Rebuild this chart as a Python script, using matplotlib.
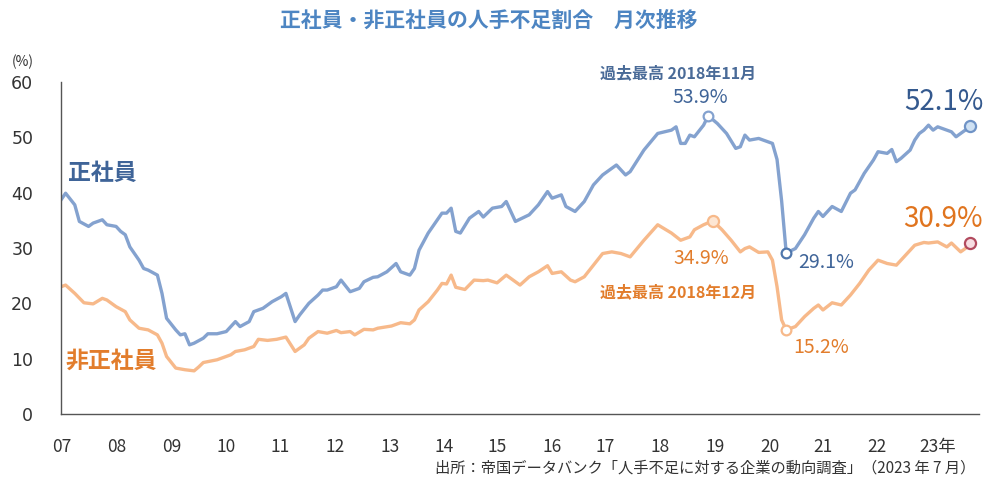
import numpy as np
import matplotlib
matplotlib.use("Agg")
import matplotlib.pyplot as plt

plt.rcParams['font.family'] = ['Noto Sans CJK JP', 'DejaVu Sans']

# months counted from Jan 2007 (0) to Jul 2023 (198)
sei_month = [0, 1, 3, 4, 6, 7, 9, 10, 12, 13, 14, 15, 17, 18, 19, 21, 22, 23, 25, 26,
             27, 28, 29, 31, 32, 34, 36, 38, 39, 41, 42, 44, 46, 48, 49, 51, 52, 54, 56, 57,
             58, 60, 61, 63, 65, 66, 68, 69, 71, 73, 74, 76, 77, 78, 80, 83, 84, 85, 86, 87,
             89, 91, 92, 94, 96, 97, 99, 102, 104, 106, 107, 109, 110, 112, 114, 116, 118, 121, 123, 124,
             127, 130, 133, 134, 135, 136, 137, 138, 140, 141, 143, 145, 147, 148, 149, 150, 152, 153, 155, 156,
             157, 158, 160, 162, 164, 165, 166, 168, 170, 172, 173, 175, 177, 178, 180, 181, 182, 183, 185, 186,
             187, 188, 189, 190, 191, 193, 194, 195, 196, 197, 198]
sei_pct = [38.7, 39.9, 37.8, 34.8, 33.9, 34.5, 35.1, 34.2, 33.9, 33.0, 32.4, 30.2, 27.8, 26.3, 26.0, 25.1, 21.8, 17.3, 15.2, 14.3,
           14.5, 12.5, 12.8, 13.7, 14.5, 14.5, 14.9, 16.7, 15.8, 16.7, 18.5, 19.1, 20.3, 21.2, 21.8, 16.7, 17.9, 20.0, 21.5, 22.4,
           22.4, 23.0, 24.2, 22.1, 22.7, 23.9, 24.7, 24.8, 25.7, 27.2, 25.7, 25.1, 26.3, 29.6, 32.7, 36.3, 36.3, 37.2, 33.0, 32.7,
           35.4, 36.6, 35.6, 37.2, 37.5, 38.4, 34.8, 36.0, 37.8, 40.2, 39.0, 39.6, 37.5, 36.6, 38.4, 41.4, 43.2, 45.0, 43.2, 43.8,
           47.7, 50.7, 51.3, 51.9, 48.9, 48.9, 50.4, 50.1, 52.2, 53.9, 52.5, 50.7, 48.0, 48.3, 50.4, 49.5, 49.8, 49.5, 48.9, 46.0,
           38.5, 29.1, 29.9, 32.4, 35.4, 36.6, 35.7, 37.5, 36.6, 39.9, 40.5, 43.5, 45.9, 47.4, 47.1, 47.8, 45.6, 46.2, 47.7, 49.5,
           50.7, 51.3, 52.2, 51.3, 51.9, 51.3, 51.0, 50.1, 50.7, 51.3, 52.1]

hisei_month = [0, 1, 3, 5, 7, 9, 10, 12, 14, 15, 17, 19, 21, 22, 23, 25, 27, 29, 30, 31,
               34, 35, 37, 38, 40, 42, 43, 45, 47, 49, 51, 53, 54, 56, 58, 60, 61, 63, 64, 66,
               68, 69, 72, 74, 75, 76, 77, 78, 80, 82, 83, 84, 85, 86, 88, 90, 92, 93, 95, 97,
               100, 102, 104, 106, 107, 109, 111, 112, 114, 116, 118, 120, 122, 124, 127, 130, 131, 133, 135, 137,
               138, 140, 142, 144, 146, 148, 149, 150, 152, 154, 155, 156, 157, 158, 160, 162, 164, 165, 166, 168,
               170, 172, 174, 176, 178, 180, 182, 184, 186, 188, 189, 191, 193, 194, 196, 197, 198]
hisei_pct = [23.0, 23.3, 21.8, 20.1, 19.9, 20.9, 20.6, 19.4, 18.5, 17.0, 15.5, 15.2, 14.3, 12.8, 10.4, 8.3, 8.0, 7.8, 8.5, 9.3,
             9.8, 10.1, 10.7, 11.3, 11.6, 12.2, 13.5, 13.3, 13.5, 13.9, 11.3, 12.5, 13.7, 14.9, 14.6, 15.1, 14.7, 14.9, 14.3, 15.3,
             15.2, 15.5, 15.9, 16.5, 16.4, 16.3, 17.0, 18.8, 20.3, 22.4, 23.6, 23.5, 25.1, 22.9, 22.5, 24.2, 24.1, 24.2, 23.7, 25.1,
             23.3, 24.8, 25.7, 26.8, 25.4, 25.7, 24.2, 23.9, 24.8, 26.9, 29.0, 29.3, 29.0, 28.4, 31.4, 34.2, 33.7, 32.7, 31.4, 32.0,
             33.3, 34.2, 34.9, 33.3, 31.4, 29.3, 29.9, 30.2, 29.2, 29.3, 27.8, 23.0, 17.0, 15.2, 15.8, 17.6, 19.1, 19.7, 18.8, 20.1,
             19.7, 21.5, 23.6, 26.0, 27.8, 27.2, 26.9, 28.7, 30.5, 31.0, 30.9, 31.1, 30.2, 30.9, 29.3, 29.9, 30.9]

year_labels = ['07', '08', '09', '10', '11', '12', '13', '14', '15', '16', '17', '18', '19', '20', '21', '22', '23年']

c_blue = '#84a2cf'
c_orange = '#f7b98a'
c_blue_txt = '#3f6498'
c_orange_txt = '#e27d2c'

fig = plt.figure(figsize=(9.89, 4.78), dpi=100)
ax = fig.add_axes([61/989, 64/478, 918/989, 332/478])

ax.plot(sei_month, sei_pct, color=c_blue, lw=2.4, solid_joinstyle='round')
ax.plot(hisei_month, hisei_pct, color=c_orange, lw=2.4, solid_joinstyle='round')

# highlighted points
i_max = int(np.argmax(sei_pct))
i_min = int(np.argmin(sei_pct[100:])) + 100
j_max = int(np.argmax(hisei_pct))
j_min = int(np.argmin(hisei_pct[80:])) + 80

ax.plot(sei_month[i_max], sei_pct[i_max], 'o', ms=7, mfc='white', mec=c_blue, mew=1.6)
ax.plot(sei_month[i_min], sei_pct[i_min], 'o', ms=7, mfc='white', mec='#4f77ad', mew=1.6)
ax.plot(sei_month[-1], sei_pct[-1], 'o', ms=8, mfc='#cfe1f3', mec='#6f93c6', mew=1.6)
ax.plot(hisei_month[j_max], hisei_pct[j_max], 'o', ms=8, mfc='#fde6d3', mec=c_orange, mew=1.6)
ax.plot(hisei_month[j_min], hisei_pct[j_min], 'o', ms=7, mfc='white', mec=c_orange, mew=1.6)
ax.plot(hisei_month[-1], hisei_pct[-1], 'o', ms=8, mfc='#f7dde2', mec='#b24a5e', mew=1.6)

def note(txt, x, y, dx, dy, color, size, weight='normal'):
    ax.annotate(txt, (x, y), xytext=(dx, dy), textcoords='offset points',
                ha='center', va='center', color=color, fontsize=size, fontweight=weight)

note(f'{sei_pct[i_max]}%', sei_month[i_max], sei_pct[i_max], -6, 13, c_blue_txt, 14)
note('過去最高 2018年11月', sei_month[i_max], sei_pct[i_max], -22, 31, '#4a6b98', 11.5, 'bold')
note(f'{sei_pct[-1]}%', sei_month[-1], sei_pct[-1], -19, 17, '#34598e', 20)
note(f'{hisei_pct[-1]}%', hisei_month[-1], hisei_pct[-1], -19, 17, '#e0741e', 20)
note(f'{sei_pct[i_min]}%', sei_month[i_min], sei_pct[i_min], 29, -7, c_blue_txt, 14)
note(f'{hisei_pct[j_min]}%', hisei_month[j_min], hisei_pct[j_min], 25, -13, c_orange_txt, 14)
note(f'{hisei_pct[j_max]}%', hisei_month[j_max], hisei_pct[j_max], -8, -27, c_orange_txt, 14)
note('過去最高 2018年12月', hisei_month[j_max], hisei_pct[j_max], -25, -51, c_orange_txt, 11.5, 'bold')

ax.text(0.008, 0.726, '正社員', transform=ax.transAxes, ha='left', va='center',
        color=c_blue_txt, fontsize=16.5, fontweight='bold')
ax.text(0.005, 0.16, '非正社員', transform=ax.transAxes, ha='left', va='center',
        color=c_orange_txt, fontsize=16.5, fontweight='bold')

ax.set_xlim(0, 200)
ax.set_ylim(0, 60)
ax.set_yticks(np.arange(0, 61, 10))
ax.set_xticks([0.2, 12.2, 24.2, 35.9, 47.7, 59.7, 71.7, 83.4, 95.0, 107.0, 118.5, 130.5, 142.5, 154.5, 166.0, 177.8, 190.9])
ax.set_xticklabels(year_labels)
ax.tick_params(axis='both', length=0, labelsize=12.5, colors='#333333')
ax.tick_params(axis='y', pad=20)
ax.tick_params(axis='x', pad=17)
for lab in ax.get_yticklabels():
    lab.set_family('DejaVu Sans')
for s in ['top', 'right']:
    ax.spines[s].set_visible(False)
for s in ['left', 'bottom']:
    ax.spines[s].set_color('#555555')
    ax.spines[s].set_linewidth(1.0)

fig.text(23/989, 1 - 62/478, '(%)', ha='center', va='center', fontsize=10, color='#333333')
fig.text(0.494, 1 - 20/478, '正社員・非正社員の人手不足割合　月次推移', ha='center', va='center',
         fontsize=15, fontweight='bold', color='#4d85c2')
fig.text(975/989, 1 - 468/478, '出所：帝国データバンク「人手不足に対する企業の動向調査」（2023 年 7 月）',
         ha='right', va='center', fontsize=11, color='#333333')

fig.savefig('out.png', dpi=100)
